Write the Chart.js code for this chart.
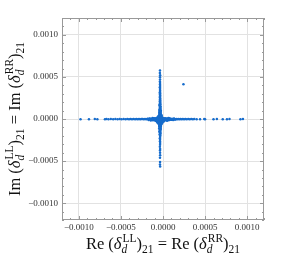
<!DOCTYPE html>
<html>
<head>
<meta charset="utf-8">
<script src="https://cdn.jsdelivr.net/npm/chart.js@4"></script>
<style>
  html, body { margin: 0; padding: 0; background: #fff; }
  canvas { display: block; }
</style>
</head>
<body>
<canvas id="c" width="282" height="256"></canvas>
<script>
// values are in units of 1e-6
const UNIT = 1e-6;

// dense blob around the origin
const corePts = [
  [-35,-10],[-30,-5],[-40,-15],[-25,-12],[-45,-6],[-33,4],[-37,-24],[-20,-2],[-50,-18],[-28,12],
  [-42,-30],[-15,-10],[-55,-8],[-23,-28],[-47,2],[-31,-36],[-39,16],[-10,-4],[-60,-14],[-17,8],
  [-53,-26],[-29,22],[-41,-42],[-5,-12],[-65,-4],[-35,28],[-35,-48],[0,-6],[-70,-12],[-21,18],
  [-49,-34],[-7,2],[-63,4],[-25,-40],[-45,24],[5,-14],[-75,-8],[-33,34],[-37,-54],[10,-4],
  [-78,-2],[-19,-30],[-51,10],[-3,-24],[-67,-22],[-31,40],[-39,-60],[15,-8],[-80,-14],[-15,20],
  [-57,-38],[3,6],[-73,8],[-27,-46],[-43,32],[18,-12],[-82,-6],[-35,44],[-35,-66],[22,-6],
  [-85,-10],[-23,30],[-47,-52],[7,-22],[-77,-20],[-41,50],[-29,-70],[25,-2],[-88,0],[-9,-32],
  [-59,14],[13,2],[-71,-30],[-33,-74],[-37,48],[-12,-18],[-58,-2],[-26,-20],[-44,-2],[-32,-28],
  [-38,8],[-18,-22],[-52,0],[-22,6],[-48,-24],[-14,-26],[-56,-32],[-27,-56],[-43,-44],[-31,-62],
  [-24,38],[-46,42],[-11,14],[-61,-20],[-34,-16],[-36,-2],[-29,-18],[-41,-8],[-26,-4],[-44,-12],
  [-6,16],[-64,22],[-2,-34],[-68,-40],[-20,-62],[-50,-60],[-16,46],[-54,36],[8,-30],[-76,12],
  [-12,-50],[-58,-50],[-26,-78],[-44,-80],[-30,56],[-40,-86],[12,10],[-84,-24],[20,-18],[-92,-16]
];

// vertical arm (Im axis)
const vertPts = [
  [-40,60],[-28,65],[-44,75],[-30,82],[-38,92],[-26,100],[-42,110],[-32,120],[-36,130],[-29,145],
  [-41,160],[-34,175],[-38,70],[-31,88],[-37,105],
  [-37,65],[-33,72],[-35,80],[-39,88],[-31,95],[-36,102],[-34,110],[-38,118],[-32,126],[-35,135],
  [-37,142],[-33,150],[-36,160],[-34,168],[-38,176],[-35,185],[-32,194],[-37,203],[-35,212],[-34,222],
  [-36,232],[-33,244],[-37,255],[-35,268],[-34,280],[-36,292],[-35,305],[-37,318],[-34,332],[-36,345],
  [-35,360],[-37,376],[-34,392],[-36,410],[-35,428],[-37,446],[-35,470],[-36,495],[-34,520],[-37,548],
  [-36,575],
  [-44,-82],[-26,-88],[-40,-96],[-30,-104],[-46,-112],[-28,-120],[-38,-130],[-32,-140],[-42,-150],[-30,-165],
  [-38,-180],[-34,-195],[-36,-90],[-33,-115],[-39,-145],
  [-36,-80],[-33,-86],[-37,-94],[-34,-100],[-35,-108],[-38,-116],[-32,-124],[-36,-132],[-34,-142],[-35,-152],
  [-37,-162],[-33,-175],[-36,-188],[-35,-200],[-34,-215],[-37,-230],[-35,-248],[-36,-265],[-34,-285],[-35,-305],
  [-37,-330],[-34,-355],[-36,-375],[-35,-400],[-34,-430],[-36,-460],[-35,-510],[-36,-540],[-34,-565]
];

// horizontal arm (Re axis)
const horizPts = [
  [-110,8],[-120,-14],[-130,4],[-140,-10],[-100,-16],[-95,10],[-150,-6],[-160,6],[-170,-12],[-180,2],
  [-105,-4],[-125,12],[-145,-18],[-115,0],[-135,-8],
  [30,10],[38,-16],[45,6],[52,-12],[60,2],[68,-14],[75,8],[82,-8],[90,4],[98,-10],
  [110,0],[120,-12],[130,6],[140,-6],[150,-2],[35,-4],[48,-20],[65,12],[85,-2],[105,-8],
  [-95,-2],[-105,1],[-115,-3],[-125,0],[-138,-2],[-150,2],[-162,-1],[-175,-3],[-188,0],[-200,-2],
  [-214,1],[-228,-2],[-242,-1],[-256,0],[-270,-3],[-285,-1],[-300,-2],[-316,0],[-332,-2],[-350,-1],
  [-368,-3],[-386,0],[-404,-2],[-424,-1],[-445,-2],[-468,0],[-492,-2],[-515,-1],[-540,-3],[-566,-1],
  [-592,-2],[-620,-1],[-648,-2],[-672,-1],[-690,-2],[-780,-2],[-810,-1],[-880,-2],[-980,-2],
  [55,-1],[62,2],[70,-2],[78,0],[86,-3],[95,-1],[104,-2],[114,0],[124,-2],[135,-1],
  [146,-3],[158,-1],[170,-2],[182,0],[195,-2],[208,-1],[222,-2],[236,-1],[250,-2],[266,-1],
  [282,-2],[300,-1],[318,-2],[336,-1],[355,-2],[372,-1],[400,-2],[440,-2],[490,-1],[500,-2],
  [600,-2],[640,-1],[710,-2],[760,-2],[790,-1],[920,-2],[950,-1]
];

const outlierPts = [[243,414]];

const tickVals = [-0.001, -0.0005, 0, 0.0005, 0.001];
const axisMin = -0.0012, axisMax = 0.0012;

const allPts = [...corePts, ...vertPts, ...horizPts, ...outlierPts]
  .map(p => ({ x: p[0] * UNIT, y: p[1] * UNIT }));

const SERIF = "'Liberation Serif', 'DejaVu Serif', serif";
const BIG = 16.5, SMALL = 11.5;

function fmt(v) {
  if (Math.abs(v) < 1e-9) return "0.0000";
  return (v < 0 ? "\u2212" : "") + Math.abs(v).toFixed(4);
}

// rich text: "X (δ_d^AA)_21 = X (δ_d^BB)_21"
function richParts(fn) {
  return [
    { t: fn + " (", size: BIG },
    { t: "\u03b4", size: BIG, italic: true },
    { sup: "LL", sub: "d" },
    { t: ")", size: BIG },
    { t: "21", size: SMALL, dy: 4 },
    { t: " = " + fn + " (", size: BIG },
    { t: "\u03b4", size: BIG, italic: true },
    { sup: "RR", sub: "d" },
    { t: ")", size: BIG },
    { t: "21", size: SMALL, dy: 4 }
  ];
}

function font(size, italic) {
  return (italic ? "italic " : "") + size + "px " + SERIF;
}

function measure(ctx, parts) {
  let w = 0;
  parts.forEach(p => {
    if (p.sup) {
      ctx.font = font(SMALL);
      const a = ctx.measureText(p.sup).width;
      ctx.font = font(SMALL, true);
      const b = ctx.measureText(p.sub).width;
      w += Math.max(a, b) + 1;
    } else {
      ctx.font = font(p.size, p.italic);
      w += ctx.measureText(p.t).width;
    }
  });
  return w;
}

function drawRich(ctx, parts, cx, by) {
  let x = cx - measure(ctx, parts) / 2;
  ctx.textAlign = "left";
  ctx.textBaseline = "alphabetic";
  parts.forEach(p => {
    if (p.sup) {
      ctx.font = font(SMALL);
      const a = ctx.measureText(p.sup).width;
      ctx.fillText(p.sup, x + 1, by - 7);
      ctx.font = font(SMALL, true);
      const b = ctx.measureText(p.sub).width;
      ctx.fillText(p.sub, x, by + 4);
      x += Math.max(a, b) + 1;
    } else {
      ctx.font = font(p.size, p.italic);
      ctx.fillText(p.t, x, by + (p.dy || 0));
      x += ctx.measureText(p.t).width;
    }
  });
}

const framePlugin = {
  id: "frame",
  beforeDatasetsDraw(chart) {
    const { ctx, chartArea: a, scales } = chart;
    ctx.save();
    ctx.strokeStyle = "#999";
    ctx.lineWidth = 1;
    ctx.strokeRect(a.left + 0.5, a.top + 0.5, a.width - 1, a.height - 1);
    // inward ticks on all sides, minor every 0.0001
    ctx.beginPath();
    for (let i = -12; i <= 12; i++) {
      const v = i * 0.0001;
      const len = (i % 5 === 0) ? 4 : 2;
      const px = Math.round(scales.x.getPixelForValue(v)) + 0.5;
      const py = Math.round(scales.y.getPixelForValue(v)) + 0.5;
      ctx.moveTo(px, a.bottom); ctx.lineTo(px, a.bottom - len);
      ctx.moveTo(px, a.top); ctx.lineTo(px, a.top + len);
      ctx.moveTo(a.left, py); ctx.lineTo(a.left + len, py);
      ctx.moveTo(a.right, py); ctx.lineTo(a.right - len, py);
    }
    ctx.stroke();
    ctx.restore();
  },
  afterDraw(chart) {
    const { ctx, chartArea: a } = chart;
    ctx.save();
    ctx.fillStyle = "#111";
    drawRich(ctx, richParts("Re"), (a.left + a.right) / 2, 249);
    ctx.translate(20, (a.top + a.bottom) / 2);
    ctx.rotate(-Math.PI / 2);
    drawRich(ctx, richParts("Im"), 0, 0);
    ctx.restore();
  }
};

const tickOpts = {
  stepSize: 0.0005,
  includeBounds: false,
  color: "#333",
  font: { family: SERIF, size: 9 },
  callback: v => fmt(v)
};

new Chart(document.getElementById("c"), {
  type: "scatter",
  data: {
    datasets: [{
      data: allPts,
      pointRadius: 1.25,
      pointBorderWidth: 0,
      pointBackgroundColor: "rgb(22,108,204)",
      pointHoverRadius: 1.25
    }]
  },
  options: {
    responsive: false,
    animation: false,
    devicePixelRatio: 1,
    layout: { padding: { top: 18, right: 18, left: 0, bottom: 0 } },
    plugins: { legend: { display: false }, tooltip: { enabled: false } },
    scales: {
      x: {
        type: "linear", min: axisMin, max: axisMax,
        afterBuildTicks: s => { s.ticks = tickVals.map(v => ({ value: v })); },
        ticks: { ...tickOpts, padding: 2, maxRotation: 0 },
        grid: { color: "#e2e2e2", drawTicks: false },
        border: { display: false },
        afterFit: s => { s.height = 36; }
      },
      y: {
        type: "linear", min: axisMin, max: axisMax,
        afterBuildTicks: s => { s.ticks = tickVals.map(v => ({ value: v })); },
        ticks: { ...tickOpts, padding: 4 },
        grid: { color: "#e2e2e2", drawTicks: false },
        border: { display: false },
        afterFit: s => { s.width = 62; }
      }
    }
  },
  plugins: [framePlugin]
});
</script>
</body>
</html>
